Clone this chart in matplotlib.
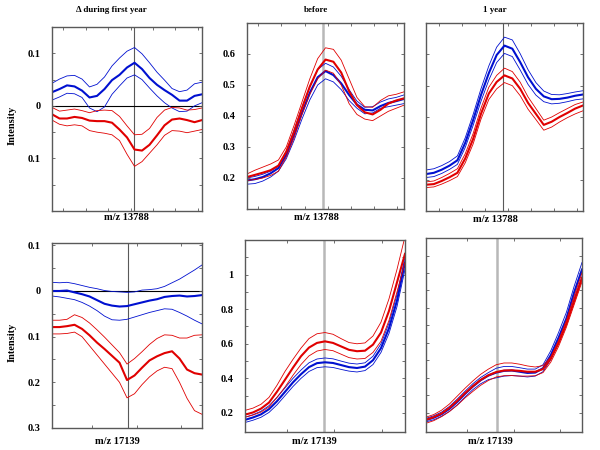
import numpy as np
import matplotlib
matplotlib.use("Agg")
import matplotlib.pyplot as plt

plt.rcParams['font.family'] = ['Liberation Serif', 'DejaVu Serif']
plt.rcParams['font.weight'] = 'bold'

BLUE = '#0010d0'
RED = '#e00000'

# ---- data: 21 samples across each panel ----
# top left: change during first year, m/z 13788
tl_blue_mean = [0.026, 0.032, 0.039, 0.037, 0.029, 0.016, 0.019, 0.032, 0.049, 0.059, 0.073,
                0.082, 0.070, 0.053, 0.040, 0.030, 0.021, 0.010, 0.010, 0.019, 0.022]
tl_blue_upper = [0.043, 0.051, 0.057, 0.058, 0.051, 0.036, 0.041, 0.055, 0.076, 0.091, 0.104,
                 0.111, 0.099, 0.082, 0.064, 0.049, 0.033, 0.027, 0.030, 0.042, 0.045]
tl_blue_lower = [0.011, 0.017, 0.024, 0.023, 0.016, -0.004, -0.011, -0.002, 0.022, 0.038, 0.053,
                 0.059, 0.050, 0.034, 0.019, 0.006, -0.004, -0.011, -0.010, 0.000, 0.006]
tl_red_mean = [-0.016, -0.024, -0.024, -0.021, -0.023, -0.028, -0.029, -0.029, -0.032, -0.045, -0.060,
               -0.083, -0.085, -0.074, -0.056, -0.037, -0.026, -0.024, -0.027, -0.031, -0.027]
tl_red_upper = [-0.003, -0.010, -0.008, -0.006, -0.009, -0.013, -0.009, -0.008, -0.009, -0.020, -0.038,
                -0.055, -0.054, -0.043, -0.022, -0.008, -0.003, -0.004, -0.008, -0.007, -0.004]
tl_red_lower = [-0.027, -0.035, -0.038, -0.036, -0.038, -0.047, -0.050, -0.052, -0.055, -0.066, -0.092,
                -0.115, -0.106, -0.090, -0.074, -0.056, -0.047, -0.048, -0.051, -0.048, -0.045]

# top middle: before, m/z 13788
tm_blue_mean = [0.192, 0.196, 0.203, 0.215, 0.232, 0.275, 0.340, 0.410, 0.475, 0.525, 0.545,
                0.532, 0.505, 0.468, 0.437, 0.420, 0.418, 0.432, 0.442, 0.448, 0.455]
tm_blue_upper = [0.200, 0.205, 0.212, 0.222, 0.238, 0.285, 0.355, 0.428, 0.495, 0.550, 0.570,
                 0.558, 0.528, 0.485, 0.448, 0.428, 0.430, 0.445, 0.455, 0.460, 0.468]
tm_blue_lower = [0.180, 0.182, 0.190, 0.203, 0.222, 0.262, 0.322, 0.390, 0.452, 0.500, 0.520,
                 0.510, 0.485, 0.450, 0.425, 0.407, 0.410, 0.425, 0.430, 0.435, 0.440]
tm_red_mean = [0.203, 0.210, 0.217, 0.225, 0.240, 0.285, 0.350, 0.425, 0.495, 0.550, 0.582,
               0.575, 0.540, 0.480, 0.435, 0.412, 0.405, 0.420, 0.440, 0.450, 0.457]
tm_red_upper = [0.213, 0.225, 0.235, 0.245, 0.258, 0.300, 0.370, 0.445, 0.520, 0.585, 0.620,
                0.615, 0.580, 0.520, 0.460, 0.430, 0.428, 0.450, 0.465, 0.470, 0.478]
tm_red_lower = [0.192, 0.195, 0.200, 0.208, 0.222, 0.268, 0.330, 0.405, 0.470, 0.520, 0.548,
                0.538, 0.500, 0.440, 0.405, 0.390, 0.385, 0.400, 0.415, 0.425, 0.435]

# top right: 1 year, m/z 13788
tr_blue_mean = [0.218, 0.222, 0.232, 0.245, 0.262, 0.318, 0.390, 0.470, 0.540, 0.598, 0.628,
                0.618, 0.575, 0.527, 0.490, 0.466, 0.457, 0.458, 0.462, 0.468, 0.472]
tr_blue_upper = [0.231, 0.235, 0.245, 0.258, 0.276, 0.334, 0.408, 0.490, 0.563, 0.623, 0.655,
                 0.646, 0.602, 0.551, 0.510, 0.483, 0.472, 0.471, 0.475, 0.480, 0.484]
tr_blue_lower = [0.207, 0.210, 0.220, 0.233, 0.249, 0.303, 0.373, 0.450, 0.518, 0.574, 0.603,
                 0.593, 0.550, 0.504, 0.470, 0.449, 0.442, 0.444, 0.449, 0.455, 0.458]
tr_red_mean = [0.184, 0.186, 0.196, 0.208, 0.222, 0.268, 0.330, 0.410, 0.475, 0.512, 0.533,
               0.523, 0.490, 0.445, 0.410, 0.375, 0.385, 0.400, 0.413, 0.427, 0.437]
tr_red_upper = [0.193, 0.196, 0.207, 0.220, 0.235, 0.283, 0.347, 0.428, 0.495, 0.533, 0.556,
                0.545, 0.511, 0.464, 0.427, 0.390, 0.400, 0.414, 0.427, 0.440, 0.448]
tr_red_lower = [0.175, 0.177, 0.186, 0.197, 0.210, 0.254, 0.314, 0.393, 0.456, 0.490, 0.510,
                0.500, 0.468, 0.425, 0.392, 0.358, 0.368, 0.384, 0.398, 0.410, 0.420]

# bottom left: change during first year, m/z 17139
bl_blue_mean = [0.000, 0.000, 0.001, -0.003, -0.007, -0.012, -0.020, -0.028, -0.032, -0.034, -0.033,
                -0.029, -0.025, -0.021, -0.018, -0.013, -0.011, -0.010, -0.012, -0.011, -0.009]
bl_blue_upper = [0.019, 0.018, 0.019, 0.016, 0.012, 0.008, 0.005, 0.001, -0.001, -0.002, -0.003,
                 -0.002, 0.002, 0.003, 0.005, 0.010, 0.018, 0.026, 0.036, 0.046, 0.057]
bl_blue_lower = [-0.011, -0.013, -0.016, -0.019, -0.025, -0.033, -0.043, -0.055, -0.063, -0.064, -0.062,
                 -0.057, -0.052, -0.047, -0.043, -0.039, -0.040, -0.047, -0.055, -0.064, -0.072]
bl_red_mean = [-0.079, -0.079, -0.077, -0.074, -0.083, -0.097, -0.113, -0.127, -0.142, -0.157, -0.195,
               -0.185, -0.168, -0.152, -0.143, -0.136, -0.132, -0.148, -0.172, -0.180, -0.183]
bl_red_upper = [-0.064, -0.064, -0.062, -0.052, -0.058, -0.070, -0.085, -0.101, -0.118, -0.135, -0.160,
                -0.148, -0.133, -0.117, -0.104, -0.096, -0.097, -0.103, -0.103, -0.097, -0.096]
bl_red_lower = [-0.094, -0.094, -0.093, -0.090, -0.100, -0.120, -0.140, -0.160, -0.180, -0.200, -0.234,
                -0.225, -0.205, -0.188, -0.175, -0.167, -0.170, -0.200, -0.235, -0.262, -0.270]

# bottom middle: before, m/z 17139
bm_blue_mean = [0.160, 0.174, 0.192, 0.222, 0.268, 0.322, 0.377, 0.424, 0.465, 0.488, 0.493,
                0.489, 0.477, 0.465, 0.460, 0.468, 0.505, 0.575, 0.690, 0.850, 1.070]
bm_blue_upper = [0.175, 0.190, 0.210, 0.242, 0.290, 0.345, 0.400, 0.448, 0.490, 0.512, 0.518,
                 0.513, 0.500, 0.488, 0.483, 0.490, 0.528, 0.600, 0.720, 0.885, 1.100]
bm_blue_lower = [0.145, 0.158, 0.175, 0.203, 0.247, 0.300, 0.353, 0.400, 0.440, 0.462, 0.467,
                 0.463, 0.452, 0.442, 0.437, 0.445, 0.480, 0.550, 0.660, 0.815, 1.030]
bm_red_mean = [0.190, 0.203, 0.225, 0.260, 0.323, 0.392, 0.462, 0.528, 0.578, 0.605, 0.614,
               0.605, 0.585, 0.565, 0.557, 0.560, 0.595, 0.665, 0.790, 0.955, 1.120]
bm_red_upper = [0.215, 0.228, 0.250, 0.290, 0.360, 0.440, 0.510, 0.575, 0.630, 0.658, 0.665,
                0.655, 0.630, 0.607, 0.600, 0.605, 0.645, 0.725, 0.860, 1.030, 1.220]
bm_red_lower = [0.175, 0.188, 0.205, 0.235, 0.290, 0.350, 0.418, 0.480, 0.530, 0.558, 0.567,
                0.560, 0.540, 0.520, 0.512, 0.515, 0.550, 0.615, 0.735, 0.900, 1.070]

# bottom right: 1 year, m/z 17139
br_blue_mean = [0.158, 0.172, 0.192, 0.222, 0.262, 0.308, 0.350, 0.386, 0.413, 0.430, 0.440,
                0.442, 0.435, 0.428, 0.430, 0.455, 0.530, 0.630, 0.740, 0.890, 1.020]
br_blue_upper = [0.168, 0.183, 0.204, 0.236, 0.278, 0.323, 0.366, 0.402, 0.430, 0.455, 0.465,
                 0.465, 0.458, 0.450, 0.450, 0.475, 0.555, 0.660, 0.775, 0.925, 1.060]
br_blue_lower = [0.148, 0.160, 0.180, 0.208, 0.245, 0.290, 0.332, 0.366, 0.390, 0.400, 0.410,
                 0.413, 0.410, 0.405, 0.410, 0.435, 0.505, 0.600, 0.705, 0.855, 0.980]
br_red_mean = [0.160, 0.175, 0.196, 0.228, 0.268, 0.312, 0.352, 0.388, 0.415, 0.433, 0.442,
               0.443, 0.440, 0.435, 0.435, 0.450, 0.510, 0.600, 0.710, 0.840, 0.970]
br_red_upper = [0.175, 0.190, 0.215, 0.250, 0.295, 0.340, 0.382, 0.420, 0.450, 0.475, 0.485,
                0.485, 0.478, 0.468, 0.462, 0.470, 0.520, 0.615, 0.730, 0.870, 1.000]
br_red_lower = [0.140, 0.155, 0.178, 0.207, 0.243, 0.285, 0.322, 0.357, 0.385, 0.405, 0.412,
                0.413, 0.410, 0.410, 0.412, 0.430, 0.490, 0.580, 0.690, 0.820, 0.950]

fig = plt.figure(figsize=(6, 4.5), dpi=100)


def panel(rect, lo, hi, first_tick, step, peak, blue, red, ylim, yticks, ylabels,
          vline_style, zero=False):
    ax = fig.add_axes(rect)
    mz = np.linspace(lo, hi, len(blue[0]))
    ax.axvline(peak, **vline_style, zorder=1)
    if zero:
        ax.axhline(0, color='k', lw=0.8, zorder=1)
    for series, col in ((blue, BLUE), (red, RED)):
        mean, upper, lower = series
        ax.plot(mz, upper, color=col, lw=0.6)
        ax.plot(mz, lower, color=col, lw=0.6)
        ax.plot(mz, mean, color=col, lw=1.5)
    ax.set_xlim(lo, hi)
    ax.set_ylim(*ylim)
    ax.set_xticks(np.arange(first_tick, hi, step))
    ax.set_xticklabels([])
    ax.set_yticks(yticks)
    ax.set_yticklabels(ylabels)
    ax.tick_params(direction='in', length=2.5, width=0.6, top=True, right=True,
                   labelsize=7.5, pad=8, colors='0.35', labelcolor='k')
    for s in ax.spines.values():
        s.set_color('0.35')
        s.set_linewidth(1.0)
    return ax


thin_dark = dict(color='0.35', lw=0.8)
thick_light = dict(color='0.72', lw=1.8)

# top row, m/z 13788
d_ticks = [-0.15, -0.1, -0.05, 0, 0.05, 0.1]
d_labels = ['', '0.1', '', '0', '', '0.1']
panel([0.0867, 0.531, 0.25, 0.409], 13751.6, 13818.6, 13756.7, 10, 13788,
      (tl_blue_mean, tl_blue_upper, tl_blue_lower), (tl_red_mean, tl_red_upper, tl_red_lower),
      (-0.2, 0.15), d_ticks, d_labels, thin_dark, zero=True)

b_ticks = [0.2, 0.3, 0.4, 0.5, 0.6]
panel([0.4117, 0.5356, 0.2617, 0.4133], 13754.9, 13822.9, 13759.8, 10, 13788,
      (tm_blue_mean, tm_blue_upper, tm_blue_lower), (tm_red_mean, tm_red_upper, tm_red_lower),
      (0.1, 0.7), b_ticks, ['0.2', '0.3', '0.4', '0.5', '0.6'], thick_light)

panel([0.71, 0.531, 0.2617, 0.4178], 13754.5, 13822.5, 13760.1, 10, 13788,
      (tr_blue_mean, tr_blue_upper, tr_blue_lower), (tr_red_mean, tr_red_upper, tr_red_lower),
      (0.1, 0.7), b_ticks, [''] * 5, thin_dark)

# bottom row, m/z 17139
d2_ticks = [-0.3, -0.25, -0.2, -0.15, -0.1, -0.05, 0, 0.05, 0.1]
d2_labels = ['0.3', '', '0.2', '', '0.1', '', '0', '', '0.1']
panel([0.0867, 0.0489, 0.25, 0.411], 17104.7, 17172.0, 17122.7, 20, 17139,
      (bl_blue_mean, bl_blue_upper, bl_blue_lower), (bl_red_mean, bl_red_upper, bl_red_lower),
      (-0.3, 0.105), d2_ticks, d2_labels, thin_dark, zero=True)

s_ticks = [round(0.1 * k, 1) for k in range(2, 12)]
s_labels = ['0.2', '', '0.4', '', '0.6', '', '0.8', '', '1', '']
panel([0.4083, 0.04, 0.2667, 0.4267], 17105.6, 17172.9, 17123.1, 20, 17139,
      (bm_blue_mean, bm_blue_upper, bm_blue_lower), (bm_red_mean, bm_red_upper, bm_red_lower),
      (0.09, 1.2), s_ticks, s_labels, thick_light)

panel([0.71, 0.04, 0.26, 0.431], 17108.6, 17175.3, 17126.1, 20, 17139,
      (br_blue_mean, br_blue_upper, br_blue_lower), (br_red_mean, br_red_upper, br_red_lower),
      (0.09, 1.2), s_ticks, [''] * 10, thick_light)

# titles and labels
for x, t in ((111, '\u0394 during first year'), (316, 'before'), (495, '1 year')):
    fig.text(x / 600, 1 - 10 / 450, t, ha='center', va='center', fontsize=6.5, fontweight='bold')
for x, y, t in ((126, 218, 'm/z 13788'), (316, 218, 'm/z 13788'), (495, 219, 'm/z 13788'),
                (117, 442, 'm/z 17139'), (314, 441, 'm/z 17139'), (490, 441, 'm/z 17139')):
    fig.text(x / 600, 1 - y / 450, t, ha='center', va='center', fontsize=7.5, fontweight='bold')
for y in (125, 342):
    fig.text(12 / 600, 1 - y / 450, 'Intensity', ha='center', va='center', rotation=90,
             fontsize=7.5, fontweight='bold')

fig.savefig('out.png', dpi=100)
